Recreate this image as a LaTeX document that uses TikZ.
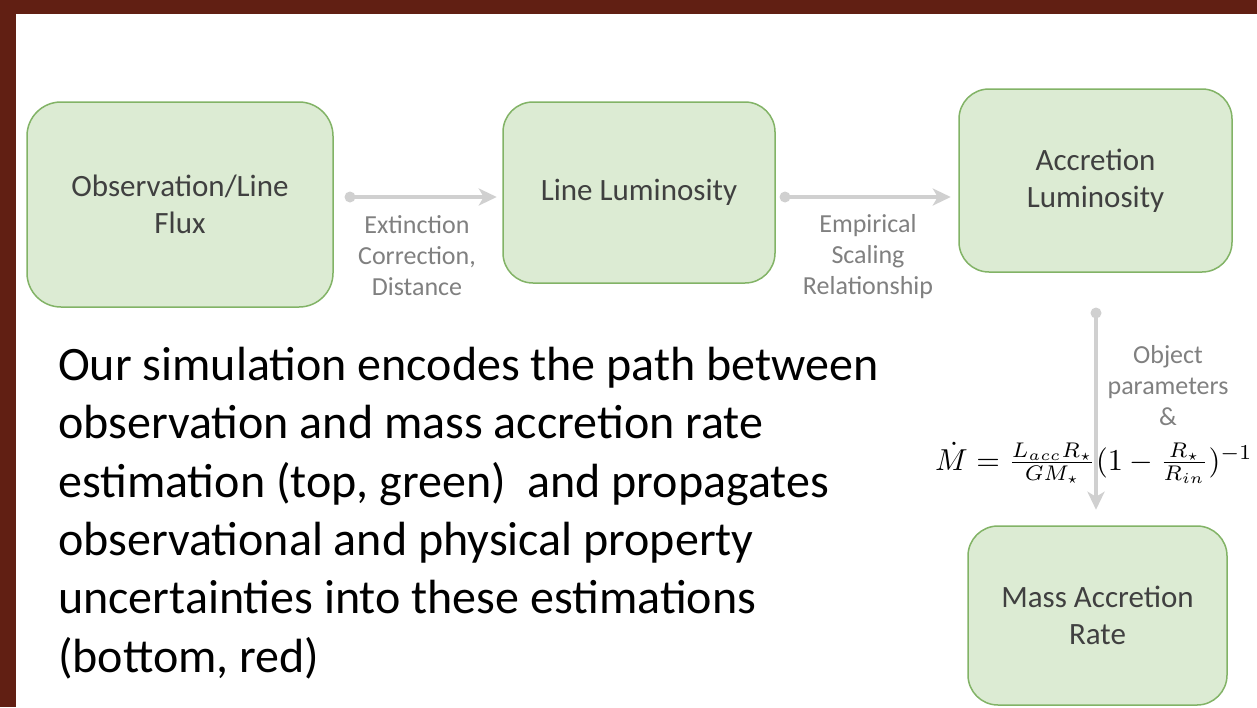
\documentclass[tikz,border=0pt]{standalone}
\usepackage[no-math]{fontspec}
\setmainfont{Carlito}
\usepackage{graphicx}
\usetikzlibrary{arrows.meta,calc}
\definecolor{frame}{HTML}{611F13}
\definecolor{boxfill}{HTML}{DCEBD3}
\definecolor{boxline}{HTML}{82B366}
\definecolor{conncol}{HTML}{D0D0D0}
\definecolor{lblcol}{HTML}{808080}
\definecolor{boxtxt}{HTML}{404040}
\begin{document}
\begin{tikzpicture}[x=1pt,y=-1pt,
  box/.style={draw=boxline, fill=boxfill, line width=1.5pt, align=center, text=boxtxt,
    font=\fontsize{31}{37}\selectfont, inner sep=0pt},
  conn/.style={draw=conncol, line width=4pt, -{Stealth[length=18pt,width=17pt,inset=5pt]}},
  dot/.style={circle, fill=conncol, minimum size=11pt, inner sep=0pt},
  elabel/.style={align=center, text=lblcol, font=\fontsize{26}{31}\selectfont, inner sep=0pt},
  body/.style={anchor=base west, inner sep=0pt, font=\fontsize{48}{58}\selectfont}
]
\useasboundingbox (0,0) rectangle (1257,707);
\fill[white] (0,0) rectangle (1257,707);
\fill[frame] (0,0) rectangle (1257,14);
\fill[frame] (0,0) rectangle (16,707);

% boxes
\node[box, minimum width=306pt, minimum height=205pt, rounded corners=34pt] (b1) at (180,204.5) {Observation/Line\\Flux};
\node[box, minimum width=272pt, minimum height=181pt, rounded corners=30pt] (b2) at (639,192.5) {Line Luminosity};
\node[box, minimum width=273pt, minimum height=183pt, rounded corners=30pt] (b3) at (1095.5,180.5) {Accretion\\Luminosity};
\node[box, minimum width=259pt, minimum height=179pt, rounded corners=30pt] (b4) at (1097.5,615.5) {Mass Accretion\\Rate};

% connectors
\node[dot] (p1) at (350,197) {};
\node[dot] (p2) at (785,197) {};
\node[dot] (p3) at (1096,313) {};
\draw[conn, shorten >=5.5pt] (p1.center) -- (p1.center -| b2.west);
\draw[conn, shorten >=7.5pt] (p2.center) -- (p2.center -| b3.west);
\draw[conn, shorten >=15.5pt] (p3.center) -- (p3.center |- b4.north);

% connector labels
\node[elabel] (l1) at (417,256) {Extinction\\Correction,\\Distance};
\node[elabel] (l2) at (868,257) {Empirical\\Scaling\\Relationship};
\node[elabel] (l3) at (1168,386) {Object\\parameters\\\&};

% equation
\node[inner sep=0pt, anchor=base east] (eq) at (1253,470)
  {\scalebox{3.03}{$\dot{M} = \frac{L_{acc}R_\star}{GM_\star}(1-\frac{R_\star}{R_{in}})^{-1}$}};

% body text
\node[body] (t1) at (58,380.5) {Our simulation encodes the path between};
\node[body] (t2) at (58,438.8) {observation and mass accretion rate};
\node[body] (t3) at (58,497.1) {estimation (top, green)\ \ and propagates};
\node[body] (t4) at (58,555.4) {observational and physical property};
\node[body] (t5) at (58,613.7) {uncertainties into these estimations};
\node[body] (t6) at (58,672) {(bottom, red)};
\end{tikzpicture}
\end{document}
